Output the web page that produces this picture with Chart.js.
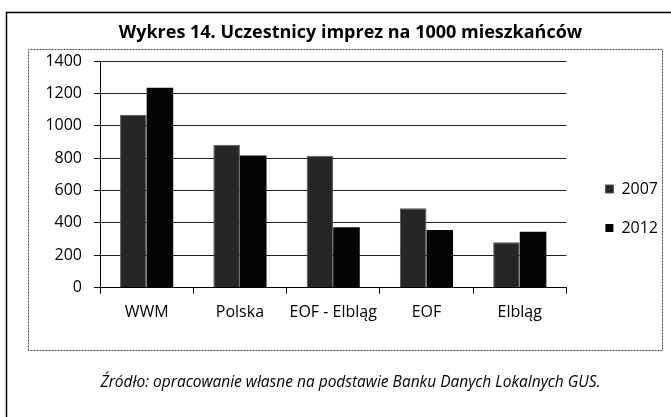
<!DOCTYPE html>
<html>
<head>
<meta charset="utf-8">
<script src="https://cdn.jsdelivr.net/npm/chart.js@4"></script>
<style>
  html, body { margin: 0; padding: 0; background: #fff; }
  #wrap { width: 671px; height: 417px; position: relative; }
</style>
</head>
<body>
<div id="wrap"><canvas id="c" width="671" height="417"></canvas></div>
<script>
const categories = ['WWM', 'Polska', 'EOF - Elbląg', 'EOF', 'Elbląg'];
const values2007 = [1068, 883, 815, 491, 280];
const values2012 = [1235, 817, 373, 357, 346];
const seriesLabels = ['2007', '2012'];
const yTicks = [0, 200, 400, 600, 800, 1000, 1200, 1400];
const titleText = 'Wykres 14. Uczestnicy imprez na 1000 mieszkańców';
const sourceText = 'Źródło: opracowanie własne na podstawie Banku Danych Lokalnych GUS.';

const frame = {
  id: 'frame',
  beforeDraw(chart) {
    const ctx = chart.ctx;
    ctx.save();
    ctx.fillStyle = '#fff';
    ctx.fillRect(0, 0, chart.width, chart.height);
    ctx.strokeStyle = '#000';
    ctx.lineWidth = 1.5;
    ctx.beginPath();
    ctx.moveTo(6.5, 417); ctx.lineTo(6.5, 12.5); ctx.lineTo(671, 12.5);
    ctx.stroke();
    ctx.lineWidth = 1;
    ctx.strokeStyle = '#444';
    ctx.setLineDash([2, 1]);
    ctx.beginPath();
    ctx.moveTo(28.5, 350.5); ctx.lineTo(28.5, 49.5); ctx.lineTo(662.5, 49.5);
    ctx.lineTo(662.5, 350.5); ctx.lineTo(28.5, 350.5);
    ctx.stroke();
    ctx.restore();
  }
};

new Chart(document.getElementById('c'), {
  type: 'bar',
  data: {
    labels: categories,
    datasets: [
      { label: seriesLabels[0], data: values2007, backgroundColor: '#262626', borderColor: '#555', borderWidth: 1, yAxisID: 'y' },
      { label: seriesLabels[1], data: values2012, backgroundColor: '#050505', borderColor: '#050505', borderWidth: 0, yAxisID: 'y' }
    ]
  },
  plugins: [frame],
  options: {
    responsive: false,
    animation: false,
    layout: { padding: { left: 33, right: 3, top: 0, bottom: 0 } },
    datasets: { bar: { categoryPercentage: 0.57, barPercentage: 1.0 } },
    scales: {
      x: {
        offset: true,
        grid: { display: true, drawOnChartArea: false, drawTicks: true, tickLength: 6, color: '#000' },
        border: { display: true, color: '#000', width: 1 },
        ticks: { color: '#000', font: { family: 'Open Sans', size: 16 }, padding: 9, maxRotation: 0 },
        afterFit(s) { s.height = 49; }
      },
      y: {
        min: 0, max: 1400,
        afterBuildTicks(s) { s.ticks = yTicks.map(v => ({ value: v })); },
        grid: { color: '#222', borderDash: [2, 1], tickColor: '#000', tickLength: 6, tickBorderDash: [] },
        border: { display: true, color: '#000', width: 1 },
        ticks: { color: '#000', font: { family: 'Open Sans', size: 16 }, padding: 12, callback: v => String(v) },
        afterFit(s) { s.width = 67; }
      },
      yR: {
        type: 'linear', position: 'right', display: true,
        grid: { display: false, drawTicks: false },
        border: { display: false },
        ticks: { display: false },
        afterFit(s) { s.width = 16; }
      }
    },
    plugins: {
      title: {
        display: true, text: titleText, color: '#000',
        font: { family: 'Open Sans', size: 18, weight: 'bold', lineHeight: 1.2 },
        padding: { top: 22.2, bottom: 17.2 }
      },
      subtitle: {
        display: true, text: sourceText, position: 'bottom', color: '#000',
        font: { family: 'Open Sans', size: 15.5, style: 'italic', lineHeight: 1.2 },
        padding: { top: 36.5, bottom: 25.2 }
      },
      legend: {
        position: 'right',
        labels: { color: '#000', font: { family: 'Open Sans', size: 16 }, boxWidth: 8, boxHeight: 8, padding: 23 }
      },
      tooltip: { enabled: false }
    }
  }
});
</script>
</body>
</html>
